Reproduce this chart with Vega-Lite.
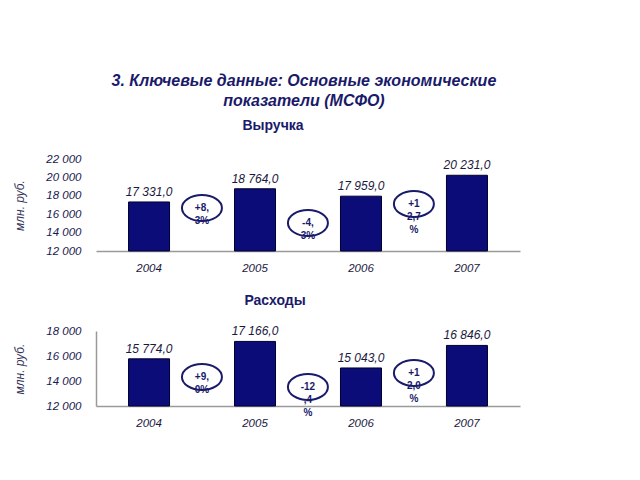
{
  "$schema": "https://vega.github.io/schema/vega-lite/v6.json",
  "background": "white",
  "padding": {"top": 73, "left": 13, "right": 10, "bottom": 10},
  "config": {
    "locale": {"number": {"decimal": ",", "thousands": " ", "grouping": [3], "currency": ["", ""]}},
    "view": {"stroke": null},
    "font": "Liberation Sans",
    "axisX": {"title": null, "labelAngle": 0, "ticks": false, "domain": true, "domainColor": "#9a9a9a", "domainWidth": 1.5, "labelPadding": 11, "labelFont": "Liberation Sans", "labelFontStyle": "italic", "labelFontSize": 11.5, "labelColor": "#1a1a40", "grid": false},
    "axisY": {"ticks": false, "grid": false, "tickCount": 20, "labelPadding": 15, "labelOverlap": false, "labelFont": "Liberation Sans", "labelFontStyle": "italic", "labelFontSize": 11.5, "labelColor": "#1a1a50", "titleFont": "Liberation Sans", "titleFontStyle": "italic", "titleFontWeight": "normal", "titleFontSize": 12, "titleColor": "#33335a", "titlePadding": 19, "format": ",d"}
  },
  "datasets": {
    "revenue": [
      {"year": "2004", "value": 17331},
      {"year": "2005", "value": 18764},
      {"year": "2006", "value": 17959},
      {"year": "2007", "value": 20231}
    ],
    "revChange": [
      {"year": "2004", "value": 16670, "label": "+8,\n3%"},
      {"year": "2005", "value": 15040, "label": "-4,\n3%"},
      {"year": "2006", "value": 17110, "label": "+1\n2,7\n%"}
    ],
    "expenses": [
      {"year": "2004", "value": 15774},
      {"year": "2005", "value": 17166},
      {"year": "2006", "value": 15043},
      {"year": "2007", "value": 16846}
    ],
    "expChange": [
      {"year": "2004", "value": 14320, "label": "+9,\n0%"},
      {"year": "2005", "value": 13520, "label": "-12\n,4\n%"},
      {"year": "2006", "value": 14640, "label": "+1\n2,0\n%"}
    ]
  },
  "title": {"text": ["3. Ключевые данные:  Основные экономические", "показатели (МСФО)"], "font": "Liberation Sans", "fontSize": 16, "fontStyle": "italic", "fontWeight": "bold", "color": "#1a1a6a", "anchor": "middle", "lineHeight": 20, "offset": 10, "dx": 37},
  "vconcat": [
    {
      "width": 424,
      "height": 92,
      "title": {"text": "Выручка", "font": "Liberation Sans", "fontSize": 14, "fontWeight": "bold", "color": "#1a1a6a", "offset": 20, "dx": -35},
      "layer": [
        {
          "mark": {"type": "rule", "color": "#9a9a9a", "strokeWidth": 1.5},
          "encoding": {"y": {"datum": 20000, "type": "quantitative"}}
        },
        {
          "data": {"name": "revenue"},
          "mark": {"type": "bar", "fill": "#0c0c78", "stroke": "#000030", "strokeWidth": 1},
          "encoding": {
            "x": {"field": "year", "type": "ordinal", "scale": {"paddingInner": 0.613, "paddingOuter": 0.307}},
            "y": {"field": "value", "type": "quantitative", "scale": {"domain": [12000, 22000], "zero": false, "nice": false},
                  "axis": {"title": "млн. руб.", "values": [12000, 14000, 16000, 18000, 20000, 22000], "tickCount": 20, "labelOverlap": false, "domain": false}},
            "y2": {"datum": 12000}
          }
        },
        {
          "data": {"name": "revenue"},
          "mark": {"type": "text", "baseline": "bottom", "dy": -3, "font": "Liberation Sans", "fontStyle": "italic", "fontSize": 12, "color": "#1a1a40"},
          "encoding": {
            "x": {"field": "year", "type": "ordinal"},
            "y": {"field": "value", "type": "quantitative"},
            "text": {"field": "value", "type": "quantitative", "format": ",.1f"}
          }
        },
        {
          "data": {"name": "revChange"},
          "mark": {"type": "point", "shape": "M-1,0A1,0.65 0 1,1 1,0A1,0.65 0 1,1 -1,0Z", "size": 1600, "filled": false, "stroke": "#1a1a6a", "strokeWidth": 2, "opacity": 1},
          "encoding": {
            "x": {"field": "year", "type": "ordinal", "bandPosition": 1.79},
            "y": {"field": "value", "type": "quantitative"}
          }
        },
        {
          "data": {"name": "revChange"},
          "mark": {"type": "text", "lineBreak": "\n", "lineHeight": 13, "font": "Liberation Sans", "fontWeight": "bold", "fontSize": 10, "color": "#1a1a6a", "baseline": "middle"},
          "encoding": {
            "x": {"field": "year", "type": "ordinal", "bandPosition": 1.79},
            "y": {"field": "value", "type": "quantitative"},
            "text": {"field": "label"}
          }
        }
      ]
    },
    {
      "width": 424,
      "height": 75,
      "title": {"text": "Расходы", "font": "Liberation Sans", "fontSize": 14, "fontWeight": "bold", "color": "#1a1a6a", "offset": 17, "dx": -33},
      "layer": [
        {
          "mark": {"type": "rule", "color": "#9a9a9a", "strokeWidth": 1.5},
          "encoding": {"y": {"datum": 14000, "type": "quantitative"}}
        },
        {
          "data": {"name": "expenses"},
          "mark": {"type": "bar", "fill": "#0c0c78", "stroke": "#000030", "strokeWidth": 1},
          "encoding": {
            "x": {"field": "year", "type": "ordinal", "scale": {"paddingInner": 0.613, "paddingOuter": 0.307}},
            "y": {"field": "value", "type": "quantitative", "scale": {"domain": [12000, 18000], "zero": false, "nice": false},
                  "axis": {"title": "млн. руб.", "values": [12000, 14000, 16000, 18000], "tickCount": 20, "labelOverlap": false, "domain": true, "domainColor": "#9a9a9a", "domainWidth": 1.5}},
            "y2": {"datum": 12000}
          }
        },
        {
          "data": {"name": "expenses"},
          "mark": {"type": "text", "baseline": "bottom", "dy": -3, "font": "Liberation Sans", "fontStyle": "italic", "fontSize": 12, "color": "#1a1a40"},
          "encoding": {
            "x": {"field": "year", "type": "ordinal"},
            "y": {"field": "value", "type": "quantitative"},
            "text": {"field": "value", "type": "quantitative", "format": ",.1f"}
          }
        },
        {
          "data": {"name": "expChange"},
          "mark": {"type": "point", "shape": "M-1,0A1,0.65 0 1,1 1,0A1,0.65 0 1,1 -1,0Z", "size": 1600, "filled": false, "stroke": "#1a1a6a", "strokeWidth": 2, "opacity": 1},
          "encoding": {
            "x": {"field": "year", "type": "ordinal", "bandPosition": 1.79},
            "y": {"field": "value", "type": "quantitative"}
          }
        },
        {
          "data": {"name": "expChange"},
          "mark": {"type": "text", "lineBreak": "\n", "lineHeight": 13, "font": "Liberation Sans", "fontWeight": "bold", "fontSize": 10, "color": "#1a1a6a", "baseline": "middle"},
          "encoding": {
            "x": {"field": "year", "type": "ordinal", "bandPosition": 1.79},
            "y": {"field": "value", "type": "quantitative"},
            "text": {"field": "label"}
          }
        }
      ]
    }
  ],
  "spacing": 20
}
